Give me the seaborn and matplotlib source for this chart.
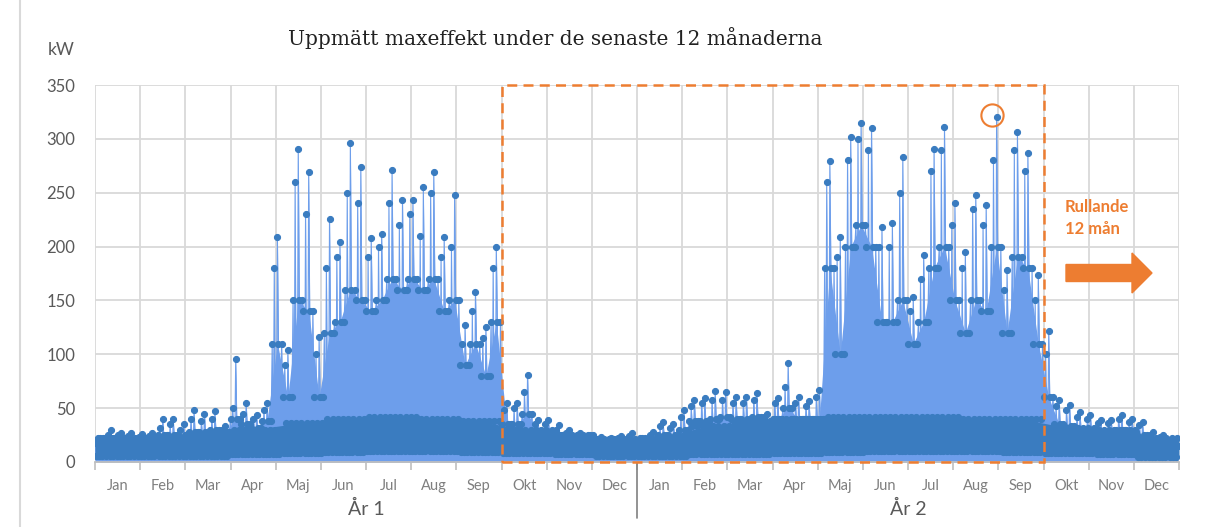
import numpy as np
import pandas as pd
import seaborn as sns
import matplotlib.pyplot as plt
from matplotlib.patches import Rectangle, FancyArrow
from matplotlib.lines import Line2D

# veckans högsta effekt (kW)
peak_ar1 = [22, 30, 27, 27, 26, 27, 40, 40, 35, 48, 45, 47, 33,
            96, 55, 44, 55, 209, 104, 291, 269, 116, 226, 204, 296, 274,
            208, 212, 271, 243, 243, 255, 269, 209, 248, 127, 158, 125, 200,
            55, 55, 81, 39, 39, 34, 30, 27, 25, 23, 22, 24, 27]
peak_ar2 = [22, 28, 37, 35, 48, 58, 59, 66, 65, 60, 60, 64, 45,
            59, 92, 60, 57, 67, 279, 209, 302, 315, 310, 218, 222, 283,
            153, 192, 291, 311, 240, 195, 248, 239, 320, 178, 306, 287, 174,
            122, 58, 53, 46, 44, 39, 39, 44, 40, 37, 28, 25, 20]

# näst högsta topp per vecka (kW)
andra_ar1 = [20, 25, 25, 24, 23, 24, 32, 35, 30, 40, 38, 40, 30,
             50, 45, 40, 48, 180, 90, 260, 230, 100, 180, 190, 250, 240,
             190, 200, 240, 220, 230, 210, 250, 190, 200, 110, 140, 115, 180,
             48, 50, 65, 35, 35, 30, 27, 25, 23, 21, 20, 22, 24]
andra_ar2 = [20, 25, 33, 32, 42, 52, 55, 58, 58, 55, 55, 58, 42,
             55, 70, 55, 52, 60, 260, 190, 280, 300, 290, 200, 200, 250,
             140, 170, 270, 290, 220, 180, 235, 220, 280, 160, 290, 270, 150,
             100, 52, 48, 42, 40, 36, 36, 40, 37, 34, 25, 23, 18]

# typisk dagstopp per vecka (kW)
typ_ar1 = [18, 22, 20, 20, 20, 20, 25, 25, 25, 28, 28, 30, 28,
           40, 35, 32, 38, 110, 60, 150, 140, 60, 120, 130, 160, 150,
           140, 150, 170, 160, 170, 160, 170, 140, 150, 90, 110, 80, 130,
           35, 35, 45, 28, 28, 25, 22, 20, 20, 18, 17, 18, 18]
typ_ar2 = [17, 20, 25, 25, 30, 38, 38, 40, 42, 40, 40, 42, 35,
           40, 50, 40, 40, 40, 180, 100, 200, 220, 200, 130, 130, 150,
           110, 130, 180, 200, 150, 120, 150, 140, 200, 120, 190, 180, 110,
           60, 35, 33, 30, 30, 28, 27, 30, 28, 25, 20, 18, 15]

# lägsta nivå och övre kant på det täta bandet, per månad (kW)
low_manad = [6, 6, 6, 7, 8, 9, 10, 10, 9, 8, 7, 6,
             6, 7, 7, 8, 9, 10, 10, 10, 9, 8, 7, 5]
band_manad = [22, 22, 26, 30, 36, 40, 42, 40, 38, 30, 25, 21,
              22, 33, 38, 40, 42, 42, 42, 40, 40, 32, 30, 22]

manader = ["Jan", "Feb", "Mar", "Apr", "Maj", "Jun",
           "Jul", "Aug", "Sep", "Okt", "Nov", "Dec"]
ar_etiketter = ["År 1", "År 2"]

blue_fill = "#6d9eeb"
blue_dot = "#3a7cc0"
orange = "#ed7d31"
grey_txt = "#595959"

peak = peak_ar1 + peak_ar2
andra = andra_ar1 + andra_ar2
typ = typ_ar1 + typ_ar2
xs, ys = [], []
for i in range(len(peak)):
    m = int(i * 12 / 52)
    lo, band = low_manad[m], band_manad[m]
    vals = [typ[i], lo, andra[i], band, lo, peak[i], typ[i], lo, band, typ[i]]
    for k, v in enumerate(vals):
        xs.append((i + k / len(vals)) * 12 / 52)
        ys.append(v)
df = pd.DataFrame({"manad": xs, "kW": ys})

sns.set_theme(style="white")
plt.rcParams["font.family"] = ["Lato", "DejaVu Sans"]

fig = plt.figure(figsize=(12.12, 5.27), dpi=100)
ax = fig.add_axes([95 / 1212, 1 - 462 / 527, (1179 - 95) / 1212, 377 / 527])

# ytor: typnivå per vecka, tätt band per månad
xw = (np.arange(len(typ)) + 0.5) * 12 / 52
xb = np.r_[0, np.arange(24) + 0.5, 24]
lo_b = np.r_[low_manad[0], low_manad, low_manad[-1]]
hi_b = np.r_[band_manad[0], band_manad, band_manad[-1]]
ax.fill_between(df["manad"], df["kW"], color=blue_fill, lw=0, zorder=2)
ax.fill_between(xw, typ, color=blue_fill, lw=0, zorder=2)
sns.lineplot(data=df, x="manad", y="kW", sort=False, ax=ax, color=blue_fill,
             linewidth=0.8, marker="o", markersize=4.4,
             markerfacecolor=blue_dot, markeredgecolor=blue_dot, zorder=4)
ax.fill_between(xb, lo_b, hi_b, color=blue_dot, lw=0, zorder=5)

ax.set_xlim(0, 24)
ax.set_ylim(0, 350)
ax.set_yticks(range(0, 351, 50))
ax.set_xticks(range(0, 25))
ax.set_xticklabels([])
ax.set_xticks(np.arange(24) + 0.5, manader * 2, minor=True)
ax.grid(True, which="major", color="#d9d9d9", lw=1.3, zorder=0)
ax.set_axisbelow(True)
for s in ["left", "right", "top"]:
    ax.spines[s].set_visible(False)
ax.spines["bottom"].set_color("#bfbfbf")
ax.spines["bottom"].set_linewidth(1.3)
ax.tick_params(axis="x", which="major", length=6, color="#bfbfbf", width=1.2, direction="out", bottom=True)
ax.tick_params(axis="x", which="minor", length=0, pad=12, labelsize=10.5, labelcolor="#7f7f7f")
ax.tick_params(axis="y", length=0, pad=14, labelsize=12, labelcolor=grey_txt)
ax.set_xlabel("")
ax.set_ylabel("")

# årsetiketter och avdelare
trans = ax.get_xaxis_transform()
ax.add_line(Line2D([12, 12], [0, -0.149], transform=trans, color="#808080", lw=1.2, clip_on=False))
for j, t in enumerate(ar_etiketter):
    ax.text(6 + 12 * j, -0.125, t, transform=trans, ha="center", va="center",
            fontsize=14, color=grey_txt)

# rullande 12 mån
ax.add_patch(Rectangle((9, 0), 12, 350, fill=False, ec=orange, lw=1.8,
                       ls=(0, (4, 2.5)), clip_on=False, zorder=6))
ax.plot([19.86], [322], marker="o", markersize=16, mfc="none", mec=orange, mew=1.5, zorder=7, clip_on=False)
fig.text(1065 / 1212, 1 - 218 / 527, "Rullande\n12 mån", color=orange, fontsize=12,
         fontweight="bold", ha="left", va="center", linespacing=1.45)
fig.patches.append(FancyArrow(1066 / 1212, 1 - 273 / 527, (1152 - 1066 - 20) / 1212, 0,
                              width=17 / 527, head_width=40 / 527, head_length=20 / 1212,
                              length_includes_head=False, color=orange, transform=fig.transFigure))

fig.text(555 / 1212, 1 - 38 / 527, "Uppmätt maxeffekt under de senaste 12 månaderna",
         family="DejaVu Serif", fontsize=14.5, color="#222222", ha="center", va="center")
fig.text(61 / 1212, 1 - 50 / 527, "kW", fontsize=12.5, color=grey_txt, ha="center", va="center")
fig.add_artist(Line2D([20 / 1212, 20 / 1212], [0, 1], transform=fig.transFigure, color="#d9d9d9", lw=1.5))

fig.savefig("out.png", dpi=100)
